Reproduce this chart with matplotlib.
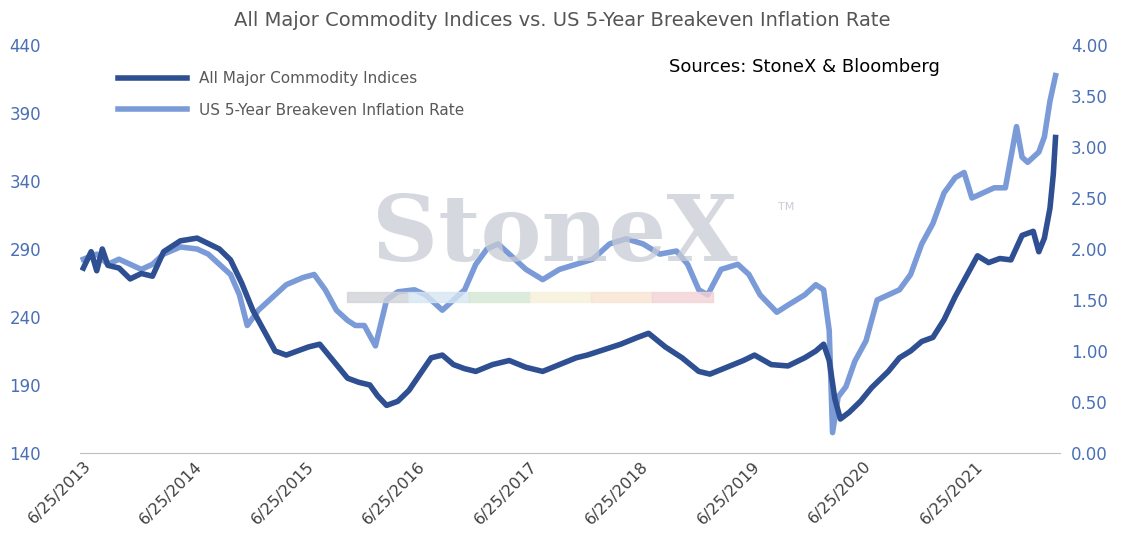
import matplotlib.pyplot as plt
from matplotlib.patches import Rectangle

# fractional years, values
cmd_t = [2013.48, 2013.55, 2013.6, 2013.65, 2013.7, 2013.8, 2013.9, 2014.0, 2014.1, 2014.2, 2014.35, 2014.5,
         2014.6, 2014.7, 2014.8, 2014.9, 2015.0, 2015.1, 2015.2, 2015.3, 2015.4, 2015.5, 2015.6, 2015.68,
         2015.75, 2015.85, 2015.95, 2016.05, 2016.12, 2016.2, 2016.3, 2016.4, 2016.5, 2016.6, 2016.7, 2016.8,
         2016.9, 2017.0, 2017.15, 2017.3, 2017.45, 2017.6, 2017.75, 2017.9, 2018.0, 2018.15, 2018.3, 2018.45,
         2018.55, 2018.7, 2018.85, 2019.0, 2019.1, 2019.25, 2019.4, 2019.5, 2019.65, 2019.8, 2019.95, 2020.05,
         2020.12, 2020.17, 2020.22, 2020.27, 2020.35, 2020.45, 2020.55, 2020.7, 2020.8, 2020.9, 2021.0,
         2021.1, 2021.2, 2021.3, 2021.4, 2021.5, 2021.6, 2021.7, 2021.8, 2021.9, 2022.0, 2022.05, 2022.1,
         2022.15, 2022.18, 2022.2]
cmd_v = [276, 288, 274, 290, 278, 276, 268, 272, 270, 288, 296, 298,
         294, 290, 282, 265, 245, 230, 215, 212, 215, 218, 220, 212,
         205, 195, 192, 190, 182, 175, 178, 186, 198, 210, 212, 205,
         202, 200, 205, 208, 203, 200, 205, 210, 212, 216, 220, 225,
         228, 218, 210, 200, 198, 203, 208, 212, 205, 204, 210, 215,
         220, 208, 180, 165, 170, 178, 188, 200, 210, 215, 222,
         225, 238, 255, 270, 285, 280, 283, 282, 300, 303, 288, 298,
         320, 345, 372]

bei_t = [2013.48, 2013.6, 2013.7, 2013.8, 2013.9, 2014.0, 2014.1, 2014.2, 2014.35, 2014.5, 2014.6, 2014.7,
         2014.8, 2014.88, 2014.95, 2015.05, 2015.15, 2015.3, 2015.45, 2015.55, 2015.65, 2015.75, 2015.85,
         2015.92, 2016.0, 2016.1, 2016.2, 2016.3, 2016.45, 2016.55, 2016.7, 2016.8, 2016.9, 2017.0,
         2017.1, 2017.2, 2017.3, 2017.45, 2017.6, 2017.75, 2017.9, 2018.05, 2018.2, 2018.35, 2018.5,
         2018.65, 2018.8, 2018.9, 2019.0, 2019.08, 2019.2, 2019.35, 2019.45, 2019.55, 2019.7, 2019.8,
         2019.95, 2020.05, 2020.12, 2020.17, 2020.2, 2020.25, 2020.32, 2020.4, 2020.5, 2020.6, 2020.7,
         2020.8, 2020.9, 2021.0, 2021.1, 2021.2, 2021.3, 2021.38, 2021.45, 2021.55, 2021.65, 2021.75,
         2021.8, 2021.85, 2021.9, 2021.95, 2022.0, 2022.05, 2022.1, 2022.15, 2022.2]
bei_v = [1.9, 1.95, 1.85, 1.9, 1.85, 1.8, 1.85, 1.95, 2.02, 2.0, 1.95, 1.85,
         1.75, 1.55, 1.25, 1.4, 1.5, 1.65, 1.72, 1.75, 1.6, 1.4, 1.3,
         1.25, 1.25, 1.05, 1.5, 1.58, 1.6, 1.55, 1.4, 1.5, 1.6, 1.85,
         2.0, 2.05, 1.95, 1.8, 1.7, 1.8, 1.85, 1.9, 2.05, 2.1, 2.05,
         1.95, 1.98, 1.85, 1.6, 1.55, 1.8, 1.85, 1.75, 1.55, 1.38, 1.45,
         1.55, 1.65, 1.6, 1.2, 0.2, 0.55, 0.65, 0.9, 1.1, 1.5, 1.55,
         1.6, 1.75, 2.05, 2.25, 2.55, 2.7, 2.75, 2.5, 2.55, 2.6, 2.6,
         2.9, 3.2, 2.9, 2.85, 2.9, 2.95, 3.1, 3.45, 3.7]

tick_years = [2013.48 + i for i in range(9)]
tick_labels = ["6/25/%d" % (2013 + i) for i in range(9)]

dark = "#2f4f93"
light = "#7b9bd8"

fig = plt.figure(figsize=(11.24, 5.5), dpi=100)
ax = fig.add_axes([80 / 1124, 97 / 550, 980 / 1124, 408 / 550])
ax2 = ax.twinx()

# watermark
fig.text(555 / 1124, 1 - 235 / 550, "StoneX", fontsize=66, family="serif", fontweight="bold",
         color="#c8ccd4", alpha=0.75, ha="center", va="center", zorder=0)
fig.text(778 / 1124, 1 - 210 / 550, "TM", fontsize=8, color="#c8ccd4", zorder=0)
strip = ["#d0d3d8", "#d7e6f2", "#d5e6d5", "#f6f1d9", "#f7e4d2", "#f3d3d6"]
for i, c in enumerate(strip):
    fig.patches.append(Rectangle(((347 + i * 61) / 1124, 1 - 302 / 550), 61 / 1124, 10 / 550,
                                 transform=fig.transFigure, color=c, alpha=0.8, zorder=0))

ax.plot(cmd_t, cmd_v, color=dark, lw=4, label="All Major Commodity Indices", zorder=3)
ax2.plot(bei_t, bei_v, color=light, lw=4, label="US 5-Year Breakeven Inflation Rate", zorder=2)
ax.set_zorder(ax2.get_zorder() + 1)
ax.patch.set_visible(False)
ax2.patch.set_visible(False)

ax.set_xlim(2013.45, 2022.24)
ax.set_ylim(140, 440)
ax2.set_ylim(0, 4)
ax.set_yticks(range(140, 441, 50))
ax2.set_yticks([i * 0.5 for i in range(9)])
ax2.set_yticklabels(["%.2f" % (i * 0.5) for i in range(9)])
ax.set_xticks(tick_years)
ax.set_xticklabels(tick_labels, rotation=45, ha="right", rotation_mode="anchor")

for a in (ax, ax2):
    for s in a.spines.values():
        s.set_visible(False)
    a.tick_params(length=0, colors="#4a6fb5", labelsize=12)
ax.spines["bottom"].set_visible(True)
ax.spines["bottom"].set_color("#bfbfbf")
ax.tick_params(axis="x", colors="#404040", labelsize=11.5, pad=4)
ax.tick_params(axis="y", pad=28)
ax2.tick_params(axis="y", pad=8)

fig.text(0.5, 0.962, "All Major Commodity Indices vs. US 5-Year Breakeven Inflation Rate",
         ha="center", va="center", fontsize=14, color="#555555")
fig.text(0.595, 0.87, "Sources: StoneX & Bloomberg", fontsize=13, color="black")

h1, l1 = ax.get_legend_handles_labels()
h2, l2 = ax2.get_legend_handles_labels()
ax.legend(h1 + h2, l1 + l2, loc="upper left", bbox_to_anchor=(0.025, 0.97), frameon=False,
          fontsize=11, labelcolor="#595959", handlelength=4.5, labelspacing=1.1)

fig.savefig("out.png", dpi=100)
